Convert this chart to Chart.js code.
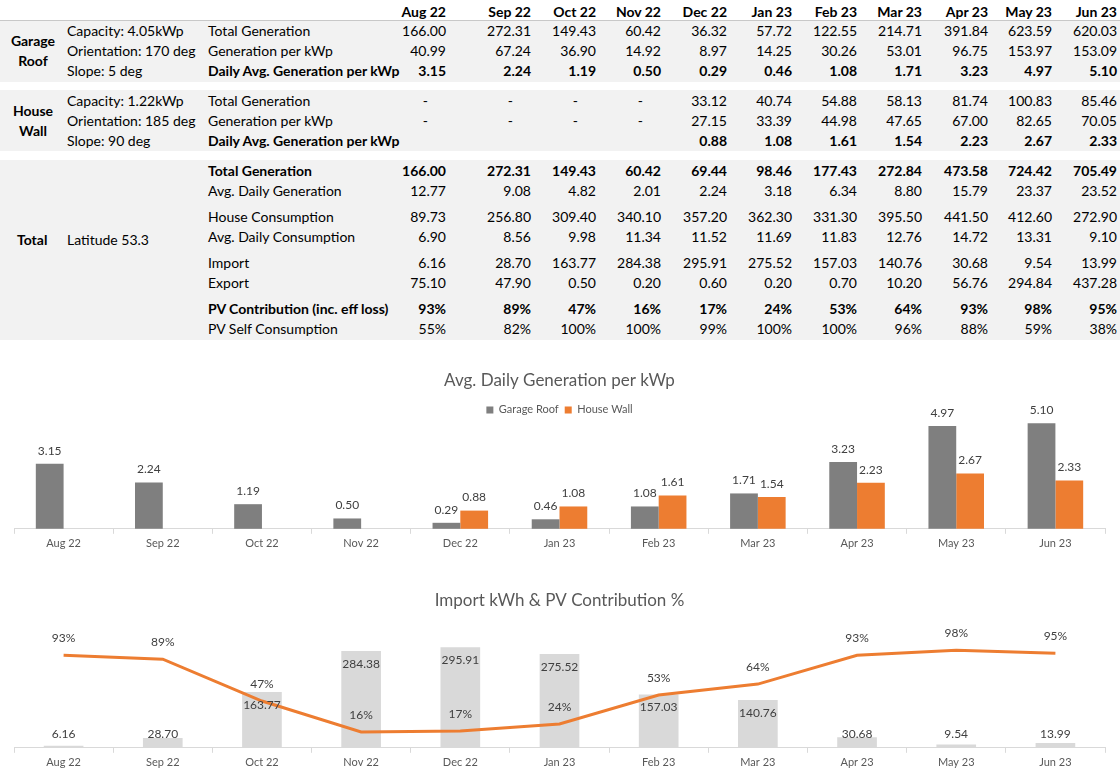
<!DOCTYPE html>
<html>
<head>
<meta charset="utf-8">
<script src="https://cdn.jsdelivr.net/npm/chart.js@4"></script>
<style>
  html,body{margin:0;padding:0;background:#fff;}
  body{width:1120px;height:779px;position:relative;overflow:hidden;font-family:"Lato","Liberation Sans",sans-serif;}
  .band{position:absolute;left:0;width:1120px;background:#f2f2f2;}
  .t{position:absolute;white-space:nowrap;font-size:14px;line-height:16px;height:16px;margin-top:-8px;color:#000;}
  .b{font-weight:bold;}
  canvas{position:absolute;left:0;}
</style>
</head>
<body>
<div class="band" style="top:20px;height:61px;border-top:1px solid #c8c8c8;"></div>
<div class="band" style="top:90px;height:61px;"></div>
<div class="band" style="top:160px;height:180px;"></div>
<div id="table"></div>
<canvas id="c1" width="1120" height="200" style="top:360px;width:1120px;height:200px;"></canvas>
<canvas id="c2" width="1120" height="199" style="top:580px;width:1120px;height:199px;"></canvas>
<script>
// ---------------- DATA ----------------
const months = ['Aug 22','Sep 22','Oct 22','Nov 22','Dec 22','Jan 23','Feb 23','Mar 23','Apr 23','May 23','Jun 23'];

const garageTotalGen   = [166.00, 272.31, 149.43, 60.42, 36.32, 57.72, 122.55, 214.71, 391.84, 623.59, 620.03];
const garageGenPerKwp  = [40.99, 67.24, 36.90, 14.92, 8.97, 14.25, 30.26, 53.01, 96.75, 153.97, 153.09];
const garageDailyPerKwp= [3.15, 2.24, 1.19, 0.50, 0.29, 0.46, 1.08, 1.71, 3.23, 4.97, 5.10];

const wallTotalGen     = [null, null, null, null, 33.12, 40.74, 54.88, 58.13, 81.74, 100.83, 85.46];
const wallGenPerKwp    = [null, null, null, null, 27.15, 33.39, 44.98, 47.65, 67.00, 82.65, 70.05];
const wallDailyPerKwp  = [null, null, null, null, 0.88, 1.08, 1.61, 1.54, 2.23, 2.67, 2.33];

const totalGen         = [166.00, 272.31, 149.43, 60.42, 69.44, 98.46, 177.43, 272.84, 473.58, 724.42, 705.49];
const avgDailyGen      = [12.77, 9.08, 4.82, 2.01, 2.24, 3.18, 6.34, 8.80, 15.79, 23.37, 23.52];
const houseConsumption = [89.73, 256.80, 309.40, 340.10, 357.20, 362.30, 331.30, 395.50, 441.50, 412.60, 272.90];
const avgDailyConsumption = [6.90, 8.56, 9.98, 11.34, 11.52, 11.69, 11.83, 12.76, 14.72, 13.31, 9.10];
const importKwh        = [6.16, 28.70, 163.77, 284.38, 295.91, 275.52, 157.03, 140.76, 30.68, 9.54, 13.99];
const exportKwh        = [75.10, 47.90, 0.50, 0.20, 0.60, 0.20, 0.70, 10.20, 56.76, 294.84, 437.28];
const pvContribution   = [93, 89, 47, 16, 17, 24, 53, 64, 93, 98, 95];   // %
const pvSelfConsumption= [55, 82, 100, 100, 99, 100, 100, 96, 88, 59, 38]; // %

const garageInfo = ['Capacity: 4.05kWp', 'Orientation: 170 deg', 'Slope: 5 deg'];
const wallInfo   = ['Capacity: 1.22kWp', 'Orientation: 185 deg', 'Slope: 90 deg'];
const totalInfo  = 'Latitude 53.3';

// ---------------- TABLE ----------------
const colRight = [446,531,596,661,727,792,857,922,988,1052,1117];
const tableEl = document.getElementById('table');
function put(x, y, s, bold, align){
  const d = document.createElement('div');
  d.className = 't' + (bold ? ' b' : '');
  d.textContent = s;
  d.style.top = y + 'px';
  if (align === 'right') d.style.right = (1120 - x) + 'px';
  else if (align === 'center') { d.style.left = (x - 60) + 'px'; d.style.width = '120px'; d.style.textAlign = 'center'; }
  else d.style.left = x + 'px';
  tableEl.appendChild(d);
}
const fmt2 = v => v.toFixed(2);
const fmtPct = v => v + '%';
// header
months.forEach((m,i) => put(colRight[i], 12, m, true, 'right'));
function row(y, label, vals, bold, f, missing){
  put(208, y, label, bold, 'left');
  vals.forEach((v,i) => {
    if (v == null) {
      if (missing === '-') put(colRight[i] - 18, y, '-', false, 'right');
      return;
    }
    put(colRight[i], y, f(v), bold, 'right');
  });
}
// block 1
put(33, 41, 'Garage', true, 'center'); put(33, 61, 'Roof', true, 'center');
garageInfo.forEach((s,i) => put(67, 31 + i*20, s, false, 'left'));
row(31, 'Total Generation', garageTotalGen, false, fmt2);
row(51, 'Generation per kWp', garageGenPerKwp, false, fmt2);
row(71, 'Daily Avg. Generation per kWp', garageDailyPerKwp, true, fmt2);
// block 2
put(33, 111, 'House', true, 'center'); put(33, 131, 'Wall', true, 'center');
wallInfo.forEach((s,i) => put(67, 101 + i*20, s, false, 'left'));
row(101, 'Total Generation', wallTotalGen, false, fmt2, '-');
row(121, 'Generation per kWp', wallGenPerKwp, false, fmt2, '-');
row(141, 'Daily Avg. Generation per kWp', wallDailyPerKwp, true, fmt2);
// block 3
put(17, 240, 'Total', true, 'left');
put(67, 240, totalInfo, false, 'left');
row(171, 'Total Generation', totalGen, true, fmt2);
row(191, 'Avg. Daily Generation', avgDailyGen, false, fmt2);
row(217, 'House Consumption', houseConsumption, false, fmt2);
row(237, 'Avg. Daily Consumption', avgDailyConsumption, false, fmt2);
row(263, 'Import', importKwh, false, fmt2);
row(283, 'Export', exportKwh, false, fmt2);
row(309, 'PV Contribution (inc. eff loss)', pvContribution, true, fmtPct);
row(329, 'PV Self Consumption', pvSelfConsumption, false, fmtPct);

// ---------------- CHARTS ----------------
const FONT = '"Lato","Liberation Sans",sans-serif';
Chart.defaults.font.family = FONT;
Chart.defaults.color = '#595959';

const valueLabels = {
  id: 'valueLabels',
  afterDatasetsDraw(chart) {
    const ctx = chart.ctx;
    const base = chart.chartArea.bottom;
    ctx.save();
    ctx.font = '12px ' + FONT;
    ctx.fillStyle = '#404040';
    ctx.textAlign = 'center';
    ctx.textBaseline = 'middle';
    chart.data.datasets.forEach((ds, i) => {
      const meta = chart.getDatasetMeta(i);
      meta.data.forEach((el, j) => {
        const v = ds.data[j];
        if (v == null) return;
        let y, text;
        if (ds.labelMode === 'insideEnd') {
          y = Math.min(el.y + 13, base - 14);
          text = v.toFixed(2);
        } else if (ds.labelMode === 'linePct') {
          y = el.y - 17;
          text = v + '%';
        } else {
          y = el.y - 13;
          text = v.toFixed(2);
        }
        ctx.fillText(text, el.x, y);
      });
    });
    ctx.restore();
  }
};

const xAxis = {
  grid: { drawOnChartArea: false, tickLength: 5, color: '#d9d9d9' },
  border: { color: '#d9d9d9' },
  ticks: { color: '#595959', font: { size: 11 }, padding: 3, maxRotation: 0, autoSkip: false }
};

new Chart(document.getElementById('c1'), {
  type: 'bar',
  data: {
    labels: months,
    datasets: [
      { label: 'Garage Roof', data: garageDailyPerKwp, backgroundColor: '#7f7f7f', labelMode: 'above' },
      { label: 'House Wall', data: wallDailyPerKwp, backgroundColor: '#ed7d31', labelMode: 'above' }
    ]
  },
  options: {
    responsive: false, animation: false,
    layout: { padding: { left: 14, right: 15, top: 0, bottom: 7 } },
    datasets: { bar: { barPercentage: 1, categoryPercentage: 0.56, clip: false } },
    scales: { x: xAxis, y: { display: false, min: 0, max: 5.0 } },
    plugins: {
      title: { display: true, text: 'Avg. Daily Generation per kWp', color: '#595959',
               font: { size: 17, weight: 'normal' }, padding: { top: 10, bottom: 8 } },
      legend: { labels: { boxWidth: 7, boxHeight: 7, color: '#595959', font: { size: 11 }, padding: 6 } },
      tooltip: { enabled: false }
    }
  },
  plugins: [valueLabels]
});

new Chart(document.getElementById('c2'), {
  type: 'bar',
  data: {
    labels: months,
    datasets: [
      { type: 'line', label: 'PV Contribution %', data: pvContribution, yAxisID: 'y1',
        borderColor: '#ed7d31', borderWidth: 3, pointRadius: 0, tension: 0, order: 0, labelMode: 'linePct' },
      { type: 'bar', label: 'Import kWh', data: importKwh, yAxisID: 'y', backgroundColor: '#d9d9d9',
        barPercentage: 1, categoryPercentage: 0.4, order: 1, labelMode: 'insideEnd' }
    ]
  },
  options: {
    responsive: false, animation: false,
    layout: { padding: { left: 14, right: 15, top: 0, bottom: 7 } },
    scales: {
      x: xAxis,
      y: { display: false, min: 0, max: 357 },
      y1: { display: false, min: 0, max: 122, position: 'right' }
    },
    plugins: {
      title: { display: true, text: 'Import kWh & PV Contribution %', color: '#595959',
               font: { size: 17, weight: 'normal' }, padding: { top: 10, bottom: 16 } },
      legend: { display: false },
      tooltip: { enabled: false }
    }
  },
  plugins: [valueLabels]
});
</script>
</body>
</html>
